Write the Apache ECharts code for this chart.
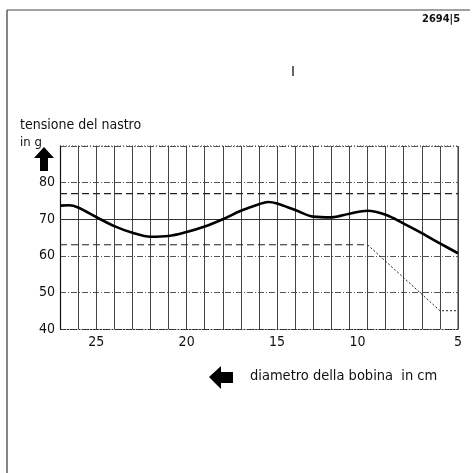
<!DOCTYPE html>
<html>
<head>
<meta charset="utf-8">
<script src="https://cdn.jsdelivr.net/npm/echarts@6/dist/echarts.min.js"></script>
<style>
  html, body { margin: 0; padding: 0; background: #fff; }
  #chart { width: 472px; height: 473px; }
</style>
</head>
<body>
<div id="chart"></div>
<script>
// Tape tension (g) versus reel diameter (cm)
const xTickLabels = [25, 20, 15, 10, 5];
const yTickLabels = [40, 50, 60, 70, 80];

// Tension curve
const diameter = [27, 26.5, 26, 25, 24, 23, 22, 21, 20, 19, 18, 17, 16, 15.5, 15, 14, 13, 12, 11, 10, 9, 8, 7, 6, 5];
const tension  = [73.7, 73.8, 73.2, 70.6, 68.1, 66.3, 65.2, 65.4, 66.5, 68.0, 70.0, 72.3, 74.1, 74.7, 74.3, 72.5, 70.7, 70.5, 71.5, 72.3, 71.2, 68.8, 66.2, 63.4, 60.7];

// Upper limit line
const upperX = [27, 5];
const upperY = [77, 77];

// Lower limit line: flat part, then the falling part
const lowerFlatX = [27, 10];
const lowerFlatY = [63, 63];
const lowerFallX = [10, 6, 5];
const lowerFallY = [63, 45, 45];

const FONT = '"DejaVu Sans Condensed", "Liberation Sans Narrow", "DejaVu Sans", sans-serif';
const pairs = (xs, ys) => xs.map((x, i) => [x, ys[i]]);

const chart = echarts.init(document.getElementById('chart'), null, { renderer: 'canvas' });

chart.setOption({
  animation: false,
  backgroundColor: '#fff',
  grid: { left: 60, right: 14, top: 146, bottom: 144 },
  xAxis: {
    type: 'value',
    inverse: true,
    min: 5,
    max: 27,
    interval: 1,
    axisLine: { show: true, lineStyle: { color: '#222', width: 1, type: [1, 2] } },
    axisTick: { show: false },
    axisLabel: {
      margin: 6,
      color: '#111',
      fontFamily: FONT,
      fontSize: 14,
      formatter: v => xTickLabels.includes(v) ? (v === 10 ? '{o|' + v + '}' : String(v)) : '',
      rich: { o: { padding: [0, 20, 0, 0], fontFamily: FONT, fontSize: 14, color: '#111' } }
    },
    splitLine: { show: true, lineStyle: { color: '#444', width: 1 } }
  },
  yAxis: {
    type: 'value',
    min: 40,
    max: 90,
    interval: 10,
    axisLine: { show: true, onZero: false, lineStyle: { color: '#111', width: 1.2 } },
    axisTick: { show: false },
    axisLabel: {
      margin: 5,
      color: '#111',
      fontFamily: FONT,
      fontSize: 14,
      formatter: v => yTickLabels.includes(v) ? String(v) : ''
    },
    splitLine: { show: true, lineStyle: { color: '#555', width: 1, type: [6, 2, 1, 2] } }
  },
  series: [
    {
      // solid 70 g reference line
      type: 'line',
      data: [],
      markLine: {
        silent: true,
        symbol: 'none',
        label: { show: false },
        lineStyle: { color: '#333', width: 1, type: 'solid' },
        data: [{ yAxis: 70 }]
      }
    },
    {
      type: 'line',
      data: pairs(upperX, upperY),
      symbol: 'none',
      lineStyle: { color: '#222', width: 1.1, type: [7, 4] },
      z: 3
    },
    {
      type: 'line',
      data: pairs(lowerFlatX, lowerFlatY),
      symbol: 'none',
      lineStyle: { color: '#222', width: 1.1, type: [7, 4] },
      z: 3
    },
    {
      type: 'line',
      data: pairs(lowerFallX, lowerFallY),
      symbol: 'none',
      lineStyle: { color: '#222', width: 1, type: [2, 2] },
      z: 3
    },
    {
      type: 'line',
      data: pairs(diameter, tension),
      symbol: 'none',
      smooth: 0.35,
      lineStyle: { color: '#000', width: 2.6 },
      z: 5
    }
  ],
  graphic: [
    // page frame
    { type: 'line', shape: { x1: 7, y1: 10, x2: 470, y2: 10 }, style: { stroke: '#444', lineWidth: 1.2 } },
    { type: 'line', shape: { x1: 7, y1: 10, x2: 7, y2: 473 }, style: { stroke: '#333', lineWidth: 1.2 } },
    // right plot border
    { type: 'line', shape: { x1: 458, y1: 146, x2: 458, y2: 329 }, style: { stroke: '#333', lineWidth: 1 } },
    // top plot border (dotted)
    { type: 'line', shape: { x1: 60, y1: 146, x2: 458, y2: 146 }, style: { stroke: '#333', lineWidth: 1, lineDash: [1, 2] } },
    // small mark
    { type: 'line', shape: { x1: 293, y1: 66, x2: 293, y2: 76 }, style: { stroke: '#333', lineWidth: 1.5 } },
    // reference number
    { type: 'text', left: 422, top: 14, style: { text: '2694|5', font: 'bold 11px ' + FONT, fill: '#111' } },
    // y-axis title
    { type: 'text', left: 20, top: 118, style: { text: 'tensione del nastro', font: '14px ' + FONT, fill: '#111' } },
    { type: 'text', left: 20, top: 136, style: { text: 'in g', font: '13px ' + FONT, fill: '#111' } },
    // up arrow
    { type: 'polygon', shape: { points: [[44, 147], [54, 158], [48, 158], [48, 171], [40, 171], [40, 158], [34, 158]] }, style: { fill: '#000' } },
    // left arrow
    { type: 'polygon', shape: { points: [[209, 377], [221, 366], [221, 372], [233, 372], [233, 383], [221, 383], [221, 389]] }, style: { fill: '#000' } },
    // x-axis title
    { type: 'text', left: 250, top: 369, style: { text: 'diametro della bobina  in cm', font: '14.5px ' + FONT, fill: '#111' } }
  ]
});
</script>
</body>
</html>
